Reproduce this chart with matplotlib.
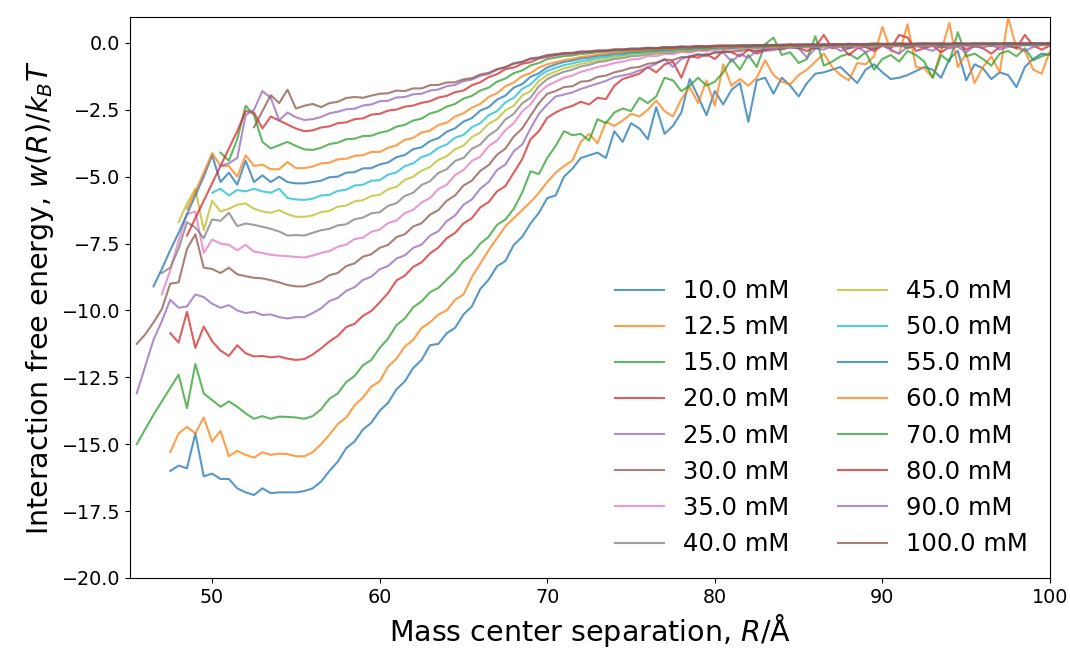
import matplotlib
matplotlib.use("Agg")
import matplotlib.pyplot as plt

# Common sampling grid of the mass-center separation (Angstrom)
R_GRID = [45.5, 46.0, 46.5, 47.0, 47.5, 48.0, 48.5, 49.0, 49.5, 50.0,
          50.5, 51.0, 51.5, 52.0, 52.5, 53.0, 53.5, 54.0, 54.5, 55.0,
          55.5, 56.0, 56.5, 57.0, 57.5, 58.0, 58.5, 59.0, 59.5, 60.0,
          60.5, 61.0, 61.5, 62.0, 62.5, 63.0, 63.5, 64.0, 64.5, 65.0,
          65.5, 66.0, 66.5, 67.0, 67.5, 68.0, 68.5, 69.0, 69.5, 70.0,
          70.5, 71.0, 71.5, 72.0, 72.5, 73.0, 73.5, 74.0, 74.5, 75.0,
          75.5, 76.0, 76.5, 77.0, 77.5, 78.0, 78.5, 79.0, 79.5, 80.0,
          80.5, 81.0, 81.5, 82.0, 82.5, 83.0, 83.5, 84.0, 84.5, 85.0,
          85.5, 86.0, 86.5, 87.0, 87.5, 88.0, 88.5, 89.0, 89.5, 90.0,
          90.5, 91.0, 91.5, 92.0, 92.5, 93.0, 93.5, 94.0, 94.5, 95.0,
          95.5, 96.0, 96.5, 97.0, 97.5, 98.0, 98.5, 99.0, 99.5, 100.0]

labels = ["10.0 mM", "12.5 mM", "15.0 mM", "20.0 mM", "25.0 mM", "30.0 mM",
          "35.0 mM", "40.0 mM", "45.0 mM", "50.0 mM", "55.0 mM", "60.0 mM",
          "70.0 mM", "80.0 mM", "90.0 mM", "100.0 mM"]

# first R of each curve (on the grid)
r_start = [47.5, 47.5, 45.5, 47.5, 45.5, 45.5, 47.0, 47.0, 48.0, 50.0,
           46.5, 48.5, 50.5, 48.5, 50.5, 52.5]

# w(R)/kT values, from r_start up to 100 in 0.5 A steps
w_10 = [-16.0, -15.8, -15.9, -14.6, -16.2, -16.1, -16.3, -16.3, -16.65, -16.8,
        -16.9, -16.65, -16.83, -16.8, -16.8, -16.8, -16.75, -16.65, -16.4, -16.0,
        -15.65, -15.15, -14.9, -14.45, -14.2, -13.75, -13.45, -12.95, -12.65, -12.15,
        -11.85, -11.3, -11.25, -10.85, -10.65, -10.15, -9.85, -9.2, -8.85, -8.35,
        -8.15, -7.55, -7.25, -6.75, -6.35, -5.8,
        -5.7, -5.0, -4.7, -4.3, -4.2, -4.1, -4.3, -3.3, -3.7, -3.0,
        -3.2, -3.6, -2.4, -3.4, -3.1, -2.6, -1.35, -2.0, -2.7, -1.8,
        -2.3, -1.75, -1.5, -2.95, -1.4, -1.3, -1.9, -1.3, -1.6, -2.0,
        -1.5, -1.15, -1.1, -1.0, -0.9, -1.2, -1.5, -1.0, -0.8, -1.1,
        -1.35, -1.3, -1.2, -1.05, -0.9, -1.0, -1.3, -0.6, -0.3, -1.4,
        -0.8, -0.95, -1.35, -1.1, -1.2, -1.65, -0.9, -0.6, -0.4, -0.45]
w_12_5 = [-15.3, -14.6, -14.35, -14.6, -14.0, -14.9, -14.5, -15.45, -15.25, -15.4,
          -15.5, -15.3, -15.4, -15.35, -15.37, -15.45, -15.45, -15.3, -15.0, -14.65,
          -14.25, -14.0, -13.55, -13.25, -12.85, -12.65, -12.1, -11.8, -11.35, -11.1,
          -10.65, -10.45, -10.15, -10.0, -9.6, -9.4, -8.75, -8.25, -7.75, -7.3,
          -6.85, -6.55, -6.25, -5.95, -5.6, -5.2,
          -4.85, -4.6, -4.4, -3.7, -3.4, -3.75, -2.95, -3.1, -2.9, -2.65,
          -2.75, -2.5, -2.15, -2.55, -2.75, -2.1, -1.65, -2.25, -1.4, -2.35,
          -0.8, -1.6, -1.35, -1.6, -1.3, -0.65, -1.2, -1.45, -1.55, -1.2,
          -1.0, -0.7, -0.4, -0.9, -1.2, -1.4, -0.75, -0.8, -0.5, 0.6,
          -0.3, -0.4, 0.7, -0.9, -0.95, -1.3, -0.3, 0.75, -0.9, -0.4,
          -1.5, -0.9, -0.5, -1.1, 0.95, -0.2, -0.3, -1.0, -1.15, -0.3]
w_15 = [-15.0, -14.45, -13.9, -13.4, -12.9, -12.4, -13.65, -12.0, -13.1, -13.35,
        -13.6, -13.4, -13.6, -13.85, -14.05, -13.95, -14.05, -13.97, -13.98, -14.0,
        -14.05, -13.95, -13.7, -13.3, -13.1, -12.68, -12.45, -12.05, -11.85, -11.4,
        -11.05, -10.55, -10.3, -9.88, -9.66, -9.32, -9.16, -8.85, -8.55, -8.15,
        -7.9, -7.5, -7.25, -6.8, -6.6, -6.2, -5.6, -4.8, -4.9, -4.3,
        -3.85, -3.3, -3.45, -3.4, -3.65, -2.85, -3.0, -2.6, -2.45, -2.55,
        -2.05, -2.25, -2.0, -1.3, -1.4, -1.8, -1.6, -1.3, -1.6, -1.45,
        -1.1, -0.6, -1.0, -0.45, -0.9, -0.05, 0.2, -0.45, -0.35, -0.75,
        -0.6, 0.25, -0.85, -0.7, -0.5, -0.4, -0.6, -0.35, -1.0, -0.6,
        -0.45, -0.7, -0.3, -0.45, -0.7, -1.3, -0.45, -0.7, 0.4, -0.5,
        -0.4, -0.6, -0.85, -0.4, -0.3, -0.5, -0.2, -0.65, -0.5, -0.4]
w_20 = [-10.85, -11.2, -10.05, -11.4, -10.6, -11.15, -11.5, -11.7, -11.3, -11.6,
        -11.72, -11.7, -11.75, -11.72, -11.8, -11.85, -11.82, -11.65, -11.42, -11.16,
        -10.95, -10.62, -10.5, -10.2, -10.02, -9.7, -9.35, -8.88, -8.7, -8.37,
        -8.2, -7.87, -7.65, -7.3, -7.1, -6.75, -6.55, -6.15, -5.95, -5.55,
        -5.35, -4.85, -4.35, -3.6, -3.3, -2.8,
        -2.6, -2.45, -2.35, -2.2, -2.3, -2.05, -2.1, -1.6, -1.35, -1.25,
        -1.15, -0.9, -1.1, -0.8, -0.7, -1.3, -0.5, -0.55, -0.42, -0.6,
        -0.3, -0.35, -0.5, -0.25, -0.4, -0.28, -0.2, -0.1, -0.05, -0.2,
        -0.3, -0.15, 0.3, -0.2, -0.1, -0.45, -0.2, -0.15, -0.3, -0.1,
        -0.2, 0.3, 0.2, -0.3, -0.2, -0.1, -0.35, -0.15, -0.05, -0.25,
        -0.1, -0.2, -0.4, -0.15, -0.1, -0.2, 0.3, -0.1, -0.25, -0.1]
w_25 = [-13.1, -12.1, -11.1, -10.4, -9.6, -9.9, -9.85, -9.4, -9.5, -9.75,
        -9.9, -9.8, -10.0, -10.1, -10.05, -10.17, -10.15, -10.25, -10.3, -10.25,
        -10.25, -10.1, -9.92, -9.65, -9.53, -9.27, -9.13, -8.86, -8.74, -8.46,
        -8.34, -8.06, -7.94, -7.66, -7.54, -7.2, -7.04, -6.66, -6.45, -6.05,
        -5.85, -5.45, -5.2, -4.75, -4.55, -4.05, -3.8, -3.2, -2.65, -2.3,
        -2.0, -1.93, -1.85, -1.72, -1.62, -1.52, -1.42, -1.28, -1.22, -1.15,
        -1.03, -0.92, -0.78, -0.6, -0.9, -0.6, -0.5, -0.42, -0.5, -0.32,
        -0.35, -0.7, -0.42, -0.55, -0.3, -0.3, -0.27, -0.2, -0.18, -0.2,
        -0.55, -0.2, -0.25, -0.12, -0.3, -0.2, -0.15, -0.35, -0.2, -0.1,
        -0.25, -0.4, -0.15, -0.1, -0.2, -0.3, -0.1, -0.2, -0.15, -0.35,
        -0.1, -0.2, -0.05, -0.25, -0.15, -0.1, -0.3, -0.15, -0.05, -0.1]
w_30 = [-11.25, -10.9, -10.45, -9.95, -9.0, -8.95, -7.7, -7.15, -8.4, -8.45,
        -8.6, -8.4, -8.65, -8.72, -8.78, -8.8, -8.87, -8.95, -9.05, -9.1,
        -9.1, -9.0, -8.9, -8.68, -8.6, -8.34, -8.24, -7.99, -7.9, -7.66,
        -7.55, -7.26, -7.15, -6.86, -6.74, -6.42, -6.25, -5.9, -5.7, -5.33,
        -5.15, -4.78, -4.57, -4.18, -3.95, -3.5, -3.2, -2.72, -2.25, -1.9,
        -1.8, -1.65, -1.62, -1.45, -1.42, -1.27, -1.22, -1.1, -1.03, -0.93,
        -0.9, -0.78, -0.74, -0.63, -0.64, -0.53, -0.52, -0.44, -0.44, -0.37,
        -0.35, -0.32, -0.3, -0.25, -0.3, -0.22, -0.2, -0.25, -0.15, -0.2,
        -0.12, -0.22, -0.1, -0.18, -0.12, -0.2, -0.08, -0.15, -0.2, -0.1,
        -0.15, -0.05, -0.2, -0.1, -0.15, -0.05, -0.18, -0.1, -0.12, -0.05,
        -0.15, -0.08, -0.12, -0.05, -0.1, -0.15, -0.05, -0.1, -0.08, -0.05]
w_35 = [-9.4, -8.5, -7.4, -6.4, -6.3, -7.85, -7.35, -7.5, -7.55, -7.75,
        -7.55, -7.8, -7.85, -7.92, -7.95, -7.97, -8.0, -8.02, -7.95, -7.85,
        -7.78, -7.62, -7.54, -7.33, -7.28, -7.06, -6.98, -6.73, -6.64, -6.36,
        -6.24, -5.96, -5.8, -5.46, -5.3, -4.94, -4.75, -4.41, -4.25, -3.86,
        -3.65, -3.26, -3.0, -2.56, -2.3, -1.86, -1.6,
        -1.45, -1.3, -1.22, -1.08, -1.0, -0.9, -0.84, -0.75, -0.7, -0.62,
        -0.6, -0.49, -0.5, -0.41, -0.42, -0.34, -0.36, -0.29, -0.31, -0.25,
        -0.25, -0.22, -0.24, -0.18, -0.22, -0.17, -0.2, -0.15, -0.18, -0.14,
        -0.18, -0.14, -0.12, -0.17, -0.13, -0.1, -0.16, -0.12, -0.15, -0.1,
        -0.14, -0.12, -0.08, -0.14, -0.1, -0.12, -0.08, -0.13, -0.1, -0.14,
        -0.09, -0.12, -0.08, -0.13, -0.09, -0.11, -0.07, -0.1, -0.08, -0.08]
w_40 = [-8.6, -8.4, -7.7, -6.7, -6.9, -7.3, -6.6, -6.65, -6.35, -6.85,
        -6.75, -6.8, -6.87, -6.95, -7.05, -7.2, -7.18, -7.2, -7.1, -7.0,
        -6.95, -6.82, -6.78, -6.59, -6.53, -6.37, -6.33, -6.09, -5.99, -5.72,
        -5.6, -5.31, -5.17, -4.86, -4.72, -4.41, -4.3, -3.96, -3.8, -3.46,
        -3.25, -2.86, -2.65, -2.26, -2.05, -1.62, -1.35,
        -1.2, -1.08, -1.0, -0.88, -0.82, -0.72, -0.68, -0.6, -0.57, -0.5,
        -0.48, -0.42, -0.4, -0.36, -0.35, -0.29, -0.31, -0.25, -0.26, -0.21,
        -0.21, -0.19, -0.2, -0.16, -0.18, -0.14, -0.17, -0.13, -0.15, -0.12,
        -0.15, -0.11, -0.14, -0.1, -0.13, -0.09, -0.12, -0.09, -0.13, -0.1,
        -0.08, -0.12, -0.09, -0.11, -0.07, -0.11, -0.09, -0.06, -0.1, -0.08,
        -0.11, -0.07, -0.09, -0.08, -0.1, -0.06, -0.09, -0.07, -0.09, -0.07]
w_45 = [-6.7, -6.0, -5.45, -7.0, -5.9, -6.3, -6.2, -6.05, -6.0, -6.2,
        -6.3, -6.35, -6.25, -6.4, -6.5, -6.5, -6.45, -6.32, -6.28, -6.12,
        -6.08, -5.92, -5.88, -5.72, -5.68, -5.47, -5.38, -5.12, -5.0, -4.77,
        -4.64, -4.37, -4.24, -3.97, -3.84, -3.52, -3.35, -3.02, -2.85, -2.52,
        -2.35, -1.97, -1.8, -1.42, -1.2,
        -1.07, -0.95, -0.88, -0.78, -0.73, -0.65, -0.61, -0.54, -0.51, -0.45,
        -0.43, -0.38, -0.37, -0.32, -0.32, -0.28, -0.28, -0.24, -0.24, -0.21,
        -0.2, -0.18, -0.19, -0.16, -0.17, -0.14, -0.15, -0.12, -0.14, -0.11,
        -0.13, -0.1, -0.12, -0.09, -0.11, -0.08, -0.1, -0.07, -0.1, -0.08,
        -0.09, -0.06, -0.09, -0.07, -0.05, -0.08, -0.06, -0.09, -0.05, -0.07,
        -0.05, -0.08, -0.06, -0.09, -0.05, -0.07, -0.06, -0.04, -0.07, -0.05]
w_50 = [-5.6, -5.45, -5.7, -5.5, -5.55, -5.45, -5.55, -5.6, -5.45, -5.8,
        -5.85, -5.87, -5.82, -5.7, -5.68, -5.53, -5.49, -5.33, -5.3, -5.15,
        -5.13, -4.92, -4.84, -4.6, -4.5, -4.27, -4.16, -3.92, -3.8, -3.54,
        -3.44, -3.15, -3.0, -2.7, -2.55, -2.22, -2.05, -1.72, -1.55, -1.24, -1.05,
        -0.93, -0.83, -0.77, -0.68, -0.64, -0.56, -0.53, -0.47, -0.45, -0.39,
        -0.38, -0.33, -0.32, -0.28, -0.28, -0.24, -0.24, -0.21, -0.21, -0.18,
        -0.18, -0.16, -0.17, -0.14, -0.15, -0.12, -0.13, -0.11, -0.12, -0.1,
        -0.12, -0.09, -0.11, -0.08, -0.1, -0.07, -0.09, -0.08, -0.06, -0.09,
        -0.07, -0.05, -0.08, -0.06, -0.09, -0.05, -0.07, -0.05, -0.07, -0.04,
        -0.06, -0.04, -0.07, -0.05, -0.07, -0.04, -0.06, -0.05, -0.06, -0.04]
w_55 = [-9.1, -8.45, -7.75, -7.1, -6.4, -5.7, -5.0, -4.2, -5.2, -4.85,
        -5.3, -4.4, -5.2, -4.95, -5.2, -5.0, -5.2, -5.25, -5.25, -5.2,
        -5.15, -5.02, -5.0, -4.85, -4.83, -4.69, -4.68, -4.54, -4.47, -4.27,
        -4.19, -3.97, -3.9, -3.67, -3.56, -3.32, -3.19, -2.94, -2.81, -2.53,
        -2.4, -2.12, -1.97, -1.67, -1.54, -1.27, -1.13, -0.92,
        -0.8, -0.71, -0.66, -0.58, -0.55, -0.48, -0.46, -0.4, -0.39, -0.34,
        -0.33, -0.29, -0.29, -0.25, -0.25, -0.21, -0.22, -0.19, -0.2, -0.17,
        -0.16, -0.17, -0.14, -0.15, -0.12, -0.13, -0.11, -0.12, -0.1, -0.11,
        -0.09, -0.1, -0.08, -0.09, -0.07, -0.09, -0.06, -0.08, -0.07, -0.08,
        -0.05, -0.07, -0.06, -0.07, -0.04, -0.06, -0.05, -0.07, -0.04, -0.06,
        -0.05, -0.03, -0.06, -0.04, -0.05, -0.03, -0.06, -0.04, -0.03, -0.05]
w_60 = [-6.2, -5.55, -4.85, -4.12, -4.6, -4.6, -5.0, -4.2, -4.6, -4.55,
        -4.72, -4.72, -4.45, -4.68, -4.68, -4.62, -4.5, -4.48, -4.35, -4.33,
        -4.22, -4.2, -4.07, -4.08, -3.92, -3.83, -3.62, -3.55, -3.35, -3.28,
        -3.07, -2.98, -2.75, -2.63, -2.42, -2.28, -2.02, -1.88, -1.62, -1.48,
        -1.24, -1.13, -0.92, -0.8,
        -0.72, -0.64, -0.6, -0.52, -0.49, -0.43, -0.41, -0.36, -0.35, -0.3,
        -0.3, -0.26, -0.26, -0.22, -0.23, -0.19, -0.2, -0.17, -0.18, -0.15,
        -0.15, -0.14, -0.15, -0.12, -0.13, -0.11, -0.12, -0.1, -0.11, -0.09,
        -0.1, -0.08, -0.1, -0.07, -0.09, -0.06, -0.08, -0.07, -0.05, -0.08,
        -0.06, -0.07, -0.04, -0.07, -0.05, -0.06, -0.03, -0.06, -0.05, -0.04,
        -0.06, -0.03, -0.05, -0.04, -0.02, -0.05, -0.03, -0.04, -0.02, -0.04]
w_70 = [-4.1, -4.4, -3.6, -2.35, -2.7, -3.7, -3.95, -3.82, -3.7, -3.85,
        -3.98, -4.0, -3.92, -3.78, -3.73, -3.6, -3.58, -3.48, -3.47, -3.36,
        -3.29, -3.13, -3.06, -2.9, -2.83, -2.64, -2.55, -2.38, -2.28, -2.08,
        -1.98, -1.78, -1.67, -1.45, -1.33, -1.13, -1.03, -0.84, -0.75, -0.6,
        -0.55, -0.49, -0.47, -0.41, -0.39, -0.34, -0.33, -0.29, -0.29, -0.25,
        -0.25, -0.21, -0.22, -0.19, -0.19, -0.16, -0.17, -0.14, -0.15, -0.12,
        -0.12, -0.13, -0.11, -0.12, -0.1, -0.11, -0.09, -0.1, -0.08, -0.09,
        -0.08, -0.07, -0.09, -0.06, -0.08, -0.07, -0.05, -0.07, -0.06, -0.04,
        -0.06, -0.05, -0.07, -0.04, -0.05, -0.03, -0.06, -0.04, -0.05, -0.03,
        -0.04, -0.05, -0.02, -0.04, -0.03, -0.05, -0.02, -0.03, -0.04, -0.02]
w_80 = [-7.2, -6.55, -5.9, -5.25, -4.6, -3.95, -3.3, -2.55, -2.6, -3.2,
        -2.75, -2.9, -3.05, -3.2, -3.3, -3.27, -3.16, -3.12, -3.0, -2.97,
        -2.85, -2.82, -2.68, -2.65, -2.53, -2.49, -2.38, -2.34, -2.24, -2.18,
        -2.04, -1.98, -1.84, -1.78, -1.58, -1.47, -1.28, -1.17, -0.98, -0.92,
        -0.78, -0.72, -0.58, -0.52,
        -0.46, -0.41, -0.4, -0.35, -0.34, -0.3, -0.3, -0.26, -0.26, -0.23,
        -0.23, -0.2, -0.2, -0.17, -0.18, -0.15, -0.16, -0.13, -0.14, -0.12,
        -0.11, -0.12, -0.1, -0.11, -0.09, -0.1, -0.08, -0.09, -0.07, -0.08,
        -0.06, -0.08, -0.05, -0.07, -0.06, -0.04, -0.06, -0.05, -0.03, -0.05,
        -0.04, -0.02, -0.05, -0.03, -0.04, -0.02, -0.04, -0.03, -0.01, -0.03,
        -0.02, -0.04, -0.02, -0.03, -0.01, -0.03, -0.02, -0.01, -0.03, -0.02]
w_90 = [-4.6, -4.5, -4.3, -2.7, -2.5, -1.8, -2.05, -2.9, -2.6, -2.78,
        -2.88, -2.85, -2.77, -2.63, -2.57, -2.48, -2.46, -2.34, -2.3, -2.18,
        -2.16, -2.04, -2.02, -1.92, -1.9, -1.78, -1.74, -1.62, -1.57, -1.43,
        -1.37, -1.23, -1.16, -1.0, -0.92, -0.78, -0.72, -0.6, -0.57, -0.48,
        -0.44, -0.39, -0.38, -0.33, -0.33, -0.29, -0.29, -0.25, -0.25, -0.22,
        -0.22, -0.19, -0.2, -0.16, -0.17, -0.14, -0.15, -0.12, -0.13, -0.11,
        -0.1, -0.11, -0.09, -0.1, -0.08, -0.09, -0.07, -0.08, -0.06, -0.07,
        -0.05, -0.07, -0.05, -0.06, -0.04, -0.06, -0.03, -0.05, -0.04, -0.03,
        -0.04, -0.02, -0.04, -0.03, -0.02, -0.04, -0.01, -0.03, -0.02, -0.04,
        -0.02, -0.03, -0.01, -0.03, -0.02, -0.01, -0.03, -0.02, -0.01, -0.02]
w_100 = [-3.15, -2.55, -1.95, -2.25, -1.75, -2.45, -2.35, -2.28, -2.4, -2.25,
         -2.2, -2.06, -2.02, -2.05, -1.97, -1.9, -1.88, -1.78, -1.8, -1.7,
         -1.7, -1.58, -1.57, -1.48, -1.47, -1.36, -1.32, -1.18, -1.12, -0.98,
         -0.9, -0.76, -0.7, -0.58, -0.54, -0.45,
         -0.42, -0.38, -0.37, -0.32, -0.32, -0.28, -0.28, -0.24, -0.24, -0.21,
         -0.21, -0.18, -0.19, -0.16, -0.16, -0.13, -0.14, -0.11, -0.13, -0.1,
         -0.1, -0.09, -0.1, -0.08, -0.09, -0.07, -0.08, -0.06, -0.07, -0.05,
         -0.06, -0.05, -0.07, -0.04, -0.05, -0.03, -0.05, -0.04, -0.02, -0.04,
         -0.03, -0.04, -0.02, -0.03, -0.01, -0.03, -0.02, -0.04, -0.01, -0.03,
         -0.02, -0.01, -0.03, -0.02, -0.01, -0.02, -0.03, -0.01, -0.02, -0.01]

series = [w_10, w_12_5, w_15, w_20, w_25, w_30, w_35, w_40, w_45, w_50,
          w_55, w_60, w_70, w_80, w_90, w_100]

fig = plt.figure(figsize=(10.70, 6.53), dpi=100)
ax = fig.add_axes([0.1215, 0.1149, 0.8598, 0.8591])

for lab, r0, w in zip(labels, r_start, series):
    i0 = R_GRID.index(r0)
    xs = R_GRID[i0:i0 + len(w)]
    ax.plot(xs, w[:len(xs)], lw=1.5, alpha=0.75, label=lab)

ax.set_xlim(45.1, 100)
ax.set_ylim(-20, 0.97)
ax.set_yticks([0.0, -2.5, -5.0, -7.5, -10.0, -12.5, -15.0, -17.5, -20.0])
ax.tick_params(labelsize=13.8)
ax.set_xlabel(r"Mass center separation, $R$/Å", fontsize=20.5)
ax.set_ylabel(r"Interaction free energy, $w(R)/k_BT$", fontsize=20.5)
ax.legend(ncol=2, frameon=False, fontsize=17.5, loc="lower right")

fig.savefig("out.png", dpi=100)
